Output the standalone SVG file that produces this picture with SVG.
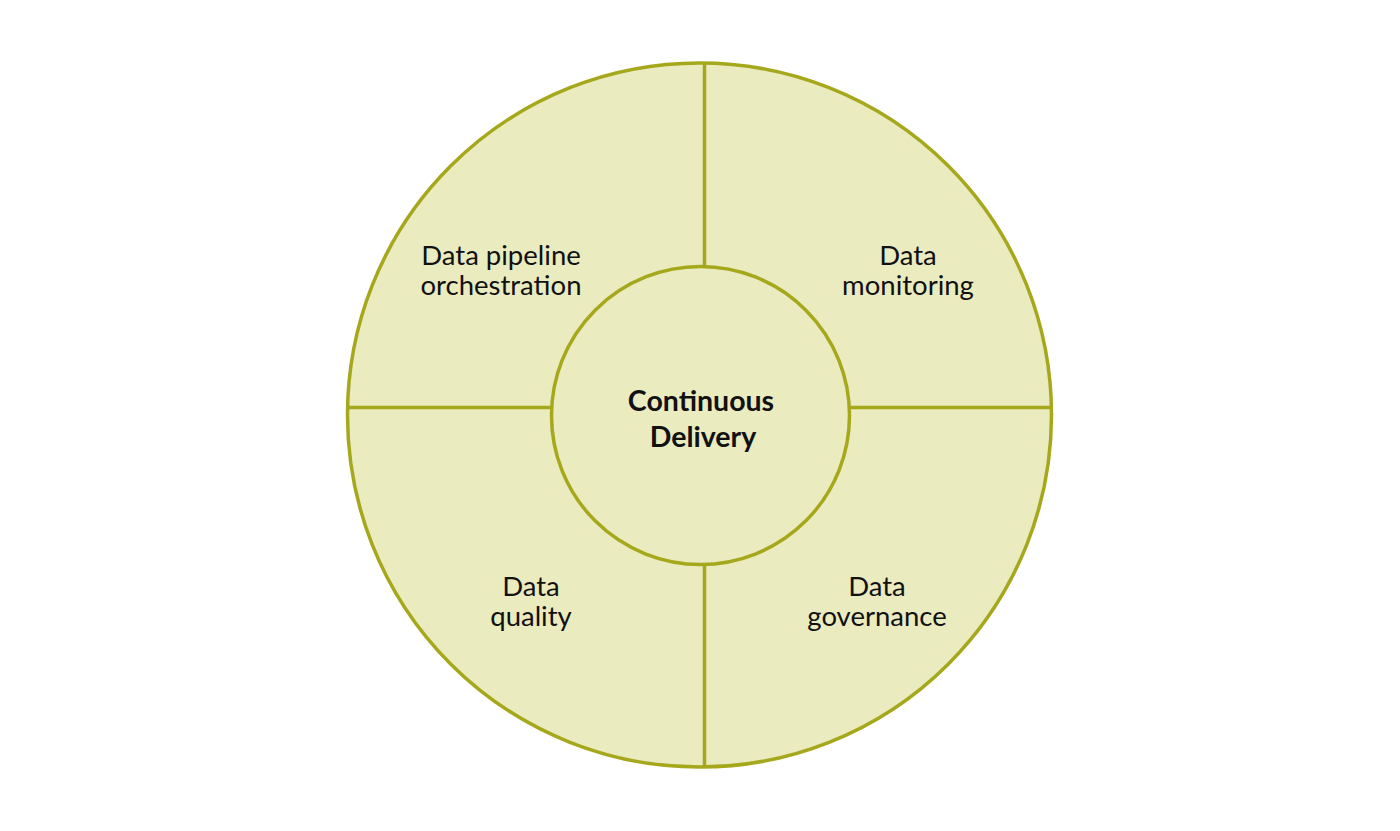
<svg xmlns="http://www.w3.org/2000/svg" width="1400" height="831" viewBox="0 0 1400 831">
<style>
.ring{fill:#EBEBC0;stroke:#A6A81C;stroke-width:3.5}
.div{stroke:#A6A81C;stroke-width:3.5;fill:none}
.lbl{font-family:"Lato","Noto Sans",sans-serif;font-size:27.5px;fill:#111;text-anchor:middle}
.ctr{font-family:"Lato","Noto Sans",sans-serif;font-size:28.5px;font-weight:bold;fill:#111;text-anchor:middle}
</style>
<rect width="1400" height="831" fill="#fff"/>
<g id="outer"><circle class="ring" cx="699.5" cy="415" r="352"/></g>
<g id="connectors">
<line class="div" x1="704.5" y1="63" x2="704.5" y2="266"/>
<line class="div" x1="704.5" y1="565" x2="704.5" y2="767"/>
<line class="div" x1="348" y1="407.5" x2="552" y2="407.5"/>
<line class="div" x1="849" y1="407.5" x2="1051" y2="407.5"/>
</g>
<g id="center"><circle class="ring" cx="700.5" cy="415.5" r="149"/>
<text class="ctr" x="701" y="411">Continuous</text>
<text class="ctr" x="703" y="447">Delivery</text></g>
<g id="pipeline"><text class="lbl" x="501" y="265">Data pipeline</text><text class="lbl" x="501" y="295">orchestration</text></g>
<g id="monitoring"><text class="lbl" x="908" y="265">Data</text><text class="lbl" x="908" y="295">monitoring</text></g>
<g id="quality"><text class="lbl" x="531" y="596">Data</text><text class="lbl" x="531" y="626">quality</text></g>
<g id="governance"><text class="lbl" x="877" y="596">Data</text><text class="lbl" x="877" y="626">governance</text></g>
</svg>
